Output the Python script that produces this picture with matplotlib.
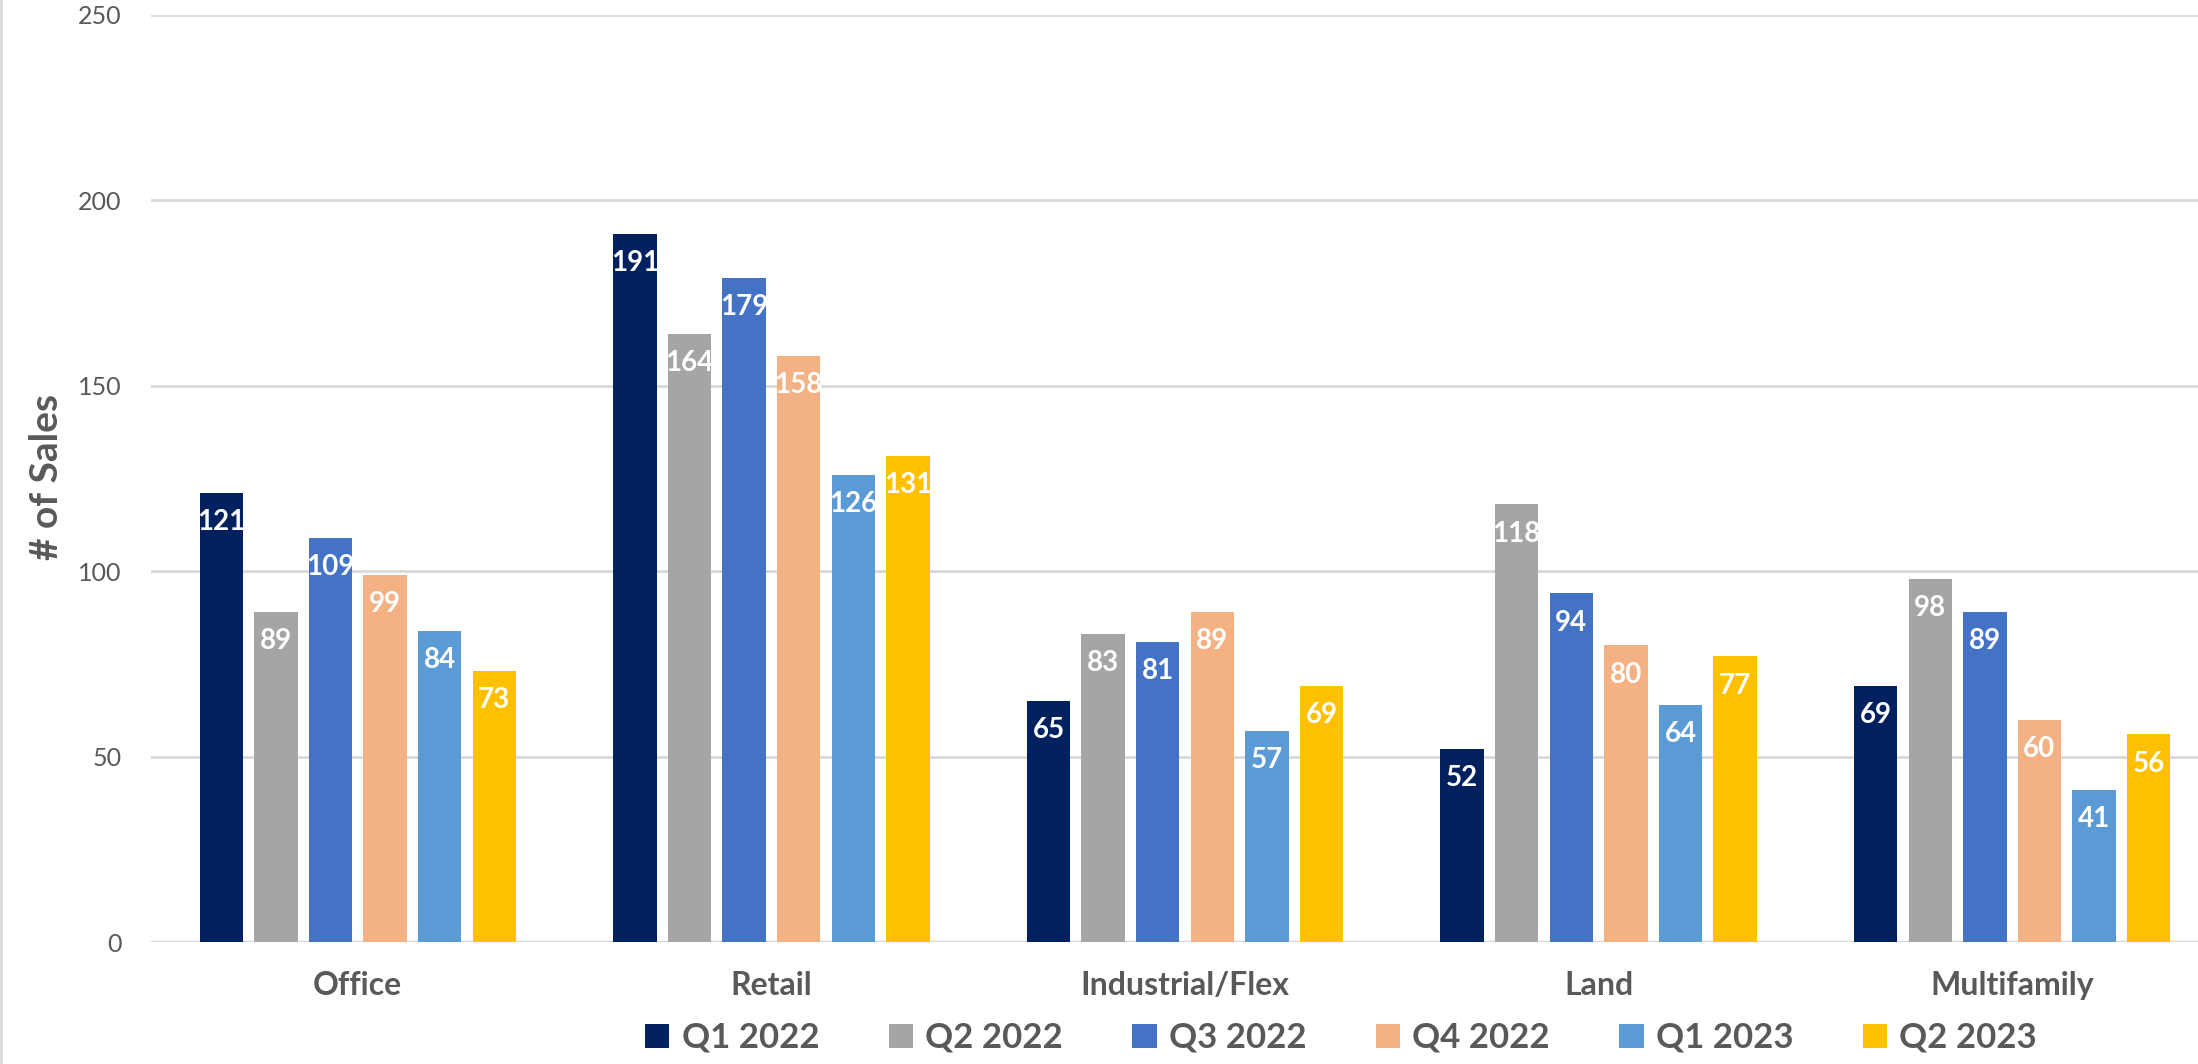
import numpy as np
from matplotlib import pyplot as plt

categories = ['Office', 'Retail', 'Industrial/Flex', 'Land', 'Multifamily']
quarters = ['Q1 2022', 'Q2 2022', 'Q3 2022', 'Q4 2022', 'Q1 2023', 'Q2 2023']
q1_2022 = [121, 191, 65, 52, 69]
q2_2022 = [89, 164, 83, 118, 98]
q3_2022 = [109, 179, 81, 94, 89]
q4_2022 = [99, 158, 89, 80, 60]
q1_2023 = [84, 126, 57, 64, 41]
q2_2023 = [73, 131, 69, 77, 56]
colors = ['#002060', '#A5A5A5', '#4472C4', '#F4B183', '#5B9BD5', '#FFC000']

series = [q1_2022, q2_2022, q3_2022, q4_2022, q1_2023, q2_2023]

plt.rcParams['font.family'] = ['Lato', 'DejaVu Sans']
text_grey = '#595959'

W, H = 2198, 1064
fig = plt.figure(figsize=(W / 100, H / 100), dpi=100)
ax = fig.add_axes([151 / W, 1 - 942 / H, 2068 / W, (942 - 15) / H])

x = np.arange(len(categories))
pitch = 0.132
width = 0.105
for i, (vals, name, c) in enumerate(zip(series, quarters, colors)):
    pos = x + (i - 2.5) * pitch
    ax.bar(pos, vals, width, color=c, label=name, zorder=3)
    for px, v in zip(pos, vals):
        ax.annotate(str(v), (px, v), xytext=(0, -21), textcoords='offset points',
                    ha='center', va='center', color='white', fontsize=20,
                    fontweight='bold', zorder=4)

ax.set_xlim(-0.5, len(categories) - 0.5)
ax.set_ylim(0, 250)
ax.set_yticks(range(0, 251, 50))
ax.yaxis.grid(True, color='#D9D9D9', linewidth=2, zorder=0)
ax.axhline(0, color='#D9D9D9', linewidth=2.5, zorder=2)
for s in ax.spines.values():
    s.set_visible(False)
ax.tick_params(axis='y', length=0, pad=21, labelsize=18, labelcolor=text_grey)
ax.set_xticks(x)
ax.set_xticklabels(categories, fontweight='bold')
ax.tick_params(axis='x', length=0, pad=21, labelsize=23, labelcolor=text_grey)

fig.text(46 / W, 1 - 477 / H, '# of Sales', rotation=90, ha='center', va='center',
         fontsize=28, fontweight='bold', color=text_grey)

fig.legend(loc='center', bbox_to_anchor=(1341 / W, 1 - 1038 / H), ncol=6,
           frameon=False, prop={'size': 25, 'weight': 'bold'}, labelcolor=text_grey,
           handlelength=0.7, handleheight=0.7, handletextpad=0.35, columnspacing=2.0)

fig.add_artist(plt.Line2D([1 / W, 1 / W], [0, 1], color='#D9D9D9', linewidth=2))

fig.savefig('out.png', dpi=100)
